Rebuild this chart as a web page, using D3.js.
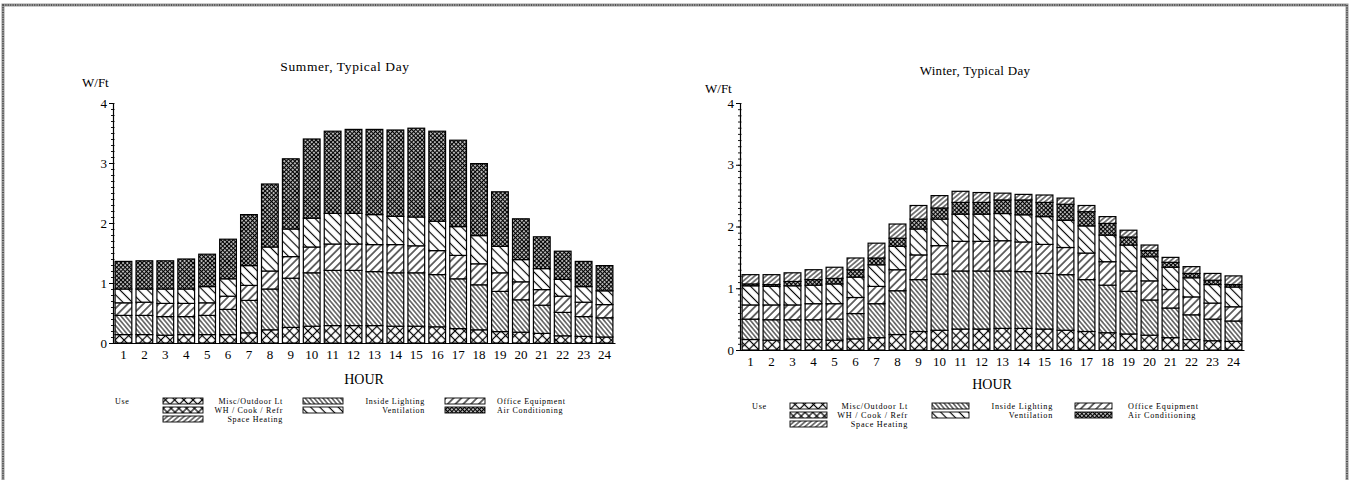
<!DOCTYPE html>
<html>
<head>
<meta charset="utf-8">
<script src="https://cdn.jsdelivr.net/npm/d3@7"></script>
<style>
  html, body { margin: 0; padding: 0; background: #fff; }
  svg { display: block; font-family: "Liberation Serif", "Times New Roman", serif; }
  svg text { fill: #000; }
</style>
</head>
<body>
<svg id="chart" width="1354" height="480" font-family="Liberation Serif"></svg>
<script>
// Hourly load shape by end use, W per square foot
const hours = ["1","2","3","4","5","6","7","8","9","10","11","12",
               "13","14","15","16","17","18","19","20","21","22","23","24"];
const yTicks = [0, 1, 2, 3, 4];

// Summer, typical day
const summerMisc     = [0.14,0.14,0.13,0.14,0.14,0.14,0.17,0.22,0.26,0.28,0.29,0.29,0.29,0.28,0.28,0.27,0.24,0.22,0.19,0.18,0.16,0.12,0.11,0.10];
const summerLighting = [0.32,0.32,0.31,0.30,0.32,0.42,0.54,0.68,0.82,0.89,0.92,0.92,0.90,0.89,0.89,0.87,0.83,0.75,0.67,0.54,0.47,0.39,0.33,0.32];
const summerOffice   = [0.21,0.22,0.22,0.22,0.21,0.22,0.25,0.30,0.36,0.43,0.44,0.44,0.45,0.47,0.45,0.40,0.39,0.35,0.31,0.30,0.26,0.27,0.24,0.22];
const summerVent     = [0.23,0.22,0.24,0.24,0.27,0.29,0.33,0.40,0.46,0.48,0.51,0.51,0.50,0.47,0.48,0.49,0.48,0.47,0.44,0.37,0.35,0.28,0.26,0.23];
const summerCooling  = [0.46,0.47,0.47,0.50,0.54,0.66,0.85,1.05,1.17,1.32,1.37,1.40,1.42,1.44,1.48,1.50,1.44,1.20,0.91,0.68,0.53,0.47,0.42,0.42];

// Winter, typical day
const winterMisc     = [0.17,0.16,0.17,0.17,0.16,0.18,0.20,0.25,0.30,0.32,0.34,0.34,0.35,0.35,0.34,0.32,0.30,0.28,0.26,0.24,0.20,0.17,0.15,0.14];
const winterLighting = [0.33,0.33,0.32,0.32,0.34,0.41,0.55,0.71,0.84,0.91,0.94,0.94,0.93,0.92,0.90,0.90,0.84,0.77,0.69,0.57,0.48,0.40,0.35,0.33];
const winterOffice   = [0.23,0.24,0.24,0.26,0.25,0.26,0.28,0.34,0.40,0.46,0.48,0.48,0.49,0.48,0.47,0.44,0.43,0.38,0.33,0.31,0.30,0.29,0.26,0.23];
const winterVent     = [0.31,0.30,0.31,0.30,0.32,0.33,0.35,0.38,0.42,0.43,0.44,0.44,0.44,0.44,0.45,0.44,0.44,0.43,0.42,0.39,0.36,0.31,0.30,0.32];
const winterCooling  = [0.03,0.03,0.07,0.09,0.09,0.12,0.11,0.13,0.16,0.18,0.19,0.19,0.22,0.24,0.23,0.26,0.23,0.19,0.13,0.10,0.08,0.07,0.07,0.04];
const winterHeating  = [0.15,0.16,0.14,0.16,0.18,0.19,0.24,0.23,0.22,0.20,0.18,0.16,0.11,0.09,0.12,0.10,0.10,0.11,0.11,0.09,0.08,0.11,0.11,0.14];

// End uses: label and fill pattern
const endUses = [
  { key: "misc",     label: "Misc/Outdoor Lt",  pattern: "p-misc" },
  { key: "wh",       label: "WH / Cook / Refr", pattern: "p-wh" },
  { key: "heating",  label: "Space Heating",    pattern: "p-heat" },
  { key: "lighting", label: "Inside Lighting",  pattern: "p-light" },
  { key: "vent",     label: "Ventilation",      pattern: "p-vent" },
  { key: "office",   label: "Office Equipment", pattern: "p-office" },
  { key: "cooling",  label: "Air Conditioning", pattern: "p-ac" }
];
const patternOf = Object.fromEntries(endUses.map(u => [u.key, u.pattern]));

const svg = d3.select("#chart");
const defs = svg.append("defs");

function hatch(id, spacing, angle, width) {
  const p = defs.append("pattern").attr("id", id)
    .attr("patternUnits", "userSpaceOnUse")
    .attr("width", spacing).attr("height", spacing)
    .attr("patternTransform", `rotate(${angle})`);
  p.append("rect").attr("width", spacing).attr("height", spacing).attr("fill", "#fff");
  p.append("line").attr("x1", spacing / 2).attr("x2", spacing / 2)
    .attr("y1", 0).attr("y2", spacing)
    .attr("stroke", "#000").attr("stroke-width", width);
}
function crossHatch(id, spacing, width) {
  const p = defs.append("pattern").attr("id", id)
    .attr("patternUnits", "userSpaceOnUse")
    .attr("width", spacing).attr("height", spacing)
    .attr("patternTransform", "rotate(45)");
  p.append("rect").attr("width", spacing).attr("height", spacing).attr("fill", "#fff");
  p.append("line").attr("x1", spacing / 2).attr("x2", spacing / 2)
    .attr("y1", 0).attr("y2", spacing).attr("stroke", "#000").attr("stroke-width", width);
  p.append("line").attr("y1", spacing / 2).attr("y2", spacing / 2)
    .attr("x1", 0).attr("x2", spacing).attr("stroke", "#000").attr("stroke-width", width);
}
crossHatch("p-misc", 6.5, 1.2);
crossHatch("p-wh", 5.5, 1.2);
crossHatch("p-ac", 3, 1.3);
hatch("p-light", 3.4, -40, 1.0);
hatch("p-office", 5.5, 45, 1.15);
hatch("p-vent", 6.5, -45, 1.15);
hatch("p-heat", 3.6, 50, 1.0);

// Scanned page frame
svg.append("rect")
  .attr("x", 3).attr("y", 5).attr("width", 1344).attr("height", 490)
  .attr("fill", "none").attr("stroke", "#9a9a9a").attr("stroke-width", 3);
svg.append("rect")
  .attr("x", 3).attr("y", 5).attr("width", 1344).attr("height", 490)
  .attr("fill", "none").attr("stroke", "#3c3c3c").attr("stroke-width", 1.6)
  .attr("stroke-dasharray", "1,1.4");

const panels = [
  {
    title: "Summer, Typical Day", titleX: 345, titleY: 71, titleSize: 13.5, titleSpacing: 0.6,
    x0: 113, x1: 615, yZero: 343, yTop: 103, unitX: 82, unitY: 87,
    keys: ["misc", "lighting", "office", "vent", "cooling"],
    series: { misc: summerMisc, lighting: summerLighting, office: summerOffice,
              vent: summerVent, cooling: summerCooling },
    legend: { useX: 115, rowY: [398, 407, 416], swW: 40,
              col1Sw: 163, col1End: 283, col2Sw: 303, col2End: 425, col3Sw: 445, col3Start: 497,
              fontSize: 8, spacing: 0.7 },
    hourY: 384
  },
  {
    title: "Winter, Typical Day", titleX: 975, titleY: 75, titleSize: 13, titleSpacing: 0.3,
    x0: 740, x1: 1244, yZero: 350, yTop: 103, unitX: 705, unitY: 93,
    keys: ["misc", "lighting", "office", "vent", "cooling", "heating"],
    series: { misc: winterMisc, lighting: winterLighting, office: winterOffice,
              vent: winterVent, cooling: winterCooling, heating: winterHeating },
    legend: { useX: 752, rowY: [403, 412, 421], swW: 37,
              col1Sw: 790, col1End: 908, col2Sw: 932, col2End: 1053, col3Sw: 1075, col3Start: 1128,
              fontSize: 8.2, spacing: 0.75 },
    hourY: 389
  }
];

function drawPanel(cfg) {
  const g = svg.append("g");
  const rows = hours.map((h, i) => {
    const r = { hour: h };
    cfg.keys.forEach(k => { r[k] = cfg.series[k][i]; });
    return r;
  });
  const x = d3.scaleBand().domain(hours).range([cfg.x0, cfg.x1])
    .paddingInner(0.2).paddingOuter(0.1);
  const y = d3.scaleLinear().domain([0, 4]).range([cfg.yZero, cfg.yTop]);

  const stacked = d3.stack().keys(cfg.keys)(rows);
  g.selectAll("g.layer").data(stacked).join("g")
    .attr("class", "layer")
    .attr("fill", d => `url(#${patternOf[d.key]})`)
    .selectAll("rect").data(d => d).join("rect")
      .attr("x", d => x(d.data.hour))
      .attr("y", d => y(d[1]))
      .attr("width", x.bandwidth())
      .attr("height", d => y(d[0]) - y(d[1]))
      .attr("stroke", "#000").attr("stroke-width", 1.2);

  // Minor ticks every 0.1
  g.append("g").attr("transform", `translate(${cfg.x0},0)`)
    .call(d3.axisLeft(y).ticks(40).tickSize(3).tickSizeOuter(0).tickFormat(""))
    .call(a => a.select(".domain").remove())
    .call(a => a.selectAll("line").attr("stroke-width", 0.9).attr("x2", 1.5).attr("x1", -2));

  // Major ticks and labels
  g.append("g").attr("transform", `translate(${cfg.x0},0)`)
    .call(d3.axisLeft(y).tickValues(yTicks).tickSize(4).tickSizeOuter(0).tickPadding(2).tickFormat(d3.format("d")))
    .call(a => a.attr("font-family", null))
    .call(a => a.select(".domain").attr("stroke-width", 1.2))
    .call(a => a.selectAll("text").attr("font-size", 13));

  g.append("g").attr("transform", `translate(0,${cfg.yZero})`)
    .call(d3.axisBottom(x).tickSize(0).tickSizeOuter(0).tickPadding(7))
    .call(a => a.attr("font-family", null))
    .call(a => a.select(".domain").attr("stroke-width", 1.2))
    .call(a => a.selectAll("text").attr("font-size", 13));

  g.append("text").attr("x", cfg.titleX).attr("y", cfg.titleY)
    .attr("text-anchor", "middle").attr("font-size", cfg.titleSize)
    .attr("letter-spacing", cfg.titleSpacing).text(cfg.title);
  g.append("text").attr("x", cfg.unitX).attr("y", cfg.unitY)
    .attr("font-size", 13).text("W/Ft");
  g.append("text").attr("x", (cfg.x0 + cfg.x1) / 2).attr("y", cfg.hourY)
    .attr("text-anchor", "middle").attr("font-size", 14).text("HOUR");

  // Legend, three columns
  const L = cfg.legend;
  const lg = g.append("g").attr("font-size", L.fontSize).attr("letter-spacing", L.spacing);
  lg.append("text").attr("x", L.useX).attr("y", L.rowY[0] + 6).text("Use");
  const placement = [
    { key: "misc",     sw: L.col1Sw, tx: L.col1End, anchor: "end", row: 0 },
    { key: "wh",       sw: L.col1Sw, tx: L.col1End, anchor: "end", row: 1 },
    { key: "heating",  sw: L.col1Sw, tx: L.col1End, anchor: "end", row: 2 },
    { key: "lighting", sw: L.col2Sw, tx: L.col2End, anchor: "end", row: 0 },
    { key: "vent",     sw: L.col2Sw, tx: L.col2End, anchor: "end", row: 1 },
    { key: "office",   sw: L.col3Sw, tx: L.col3Start, anchor: "start", row: 0 },
    { key: "cooling",  sw: L.col3Sw, tx: L.col3Start, anchor: "start", row: 1 }
  ];
  placement.forEach(p => {
    const u = endUses.find(e => e.key === p.key);
    lg.append("rect").attr("x", p.sw).attr("y", L.rowY[p.row])
      .attr("width", L.swW).attr("height", 6)
      .attr("fill", `url(#${u.pattern})`).attr("stroke", "#000").attr("stroke-width", 0.9);
    lg.append("text").attr("x", p.tx).attr("y", L.rowY[p.row] + 6)
      .attr("text-anchor", p.anchor).text(u.label);
  });
}

panels.forEach(drawPanel);
</script>
</body>
</html>
